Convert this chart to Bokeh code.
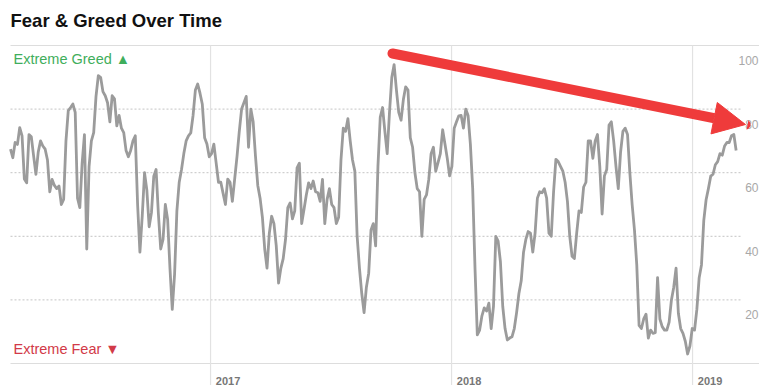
import pandas as pd
from bokeh.plotting import figure
from bokeh.models import Range1d, Arrow, NormalHead
from bokeh.core.properties import value
from bokeh.embed import file_html
from bokeh.resources import INLINE

# ---------------- data (twice-weekly readings) ----------------
series_start = "2016-03-04"
fear_greed = [
    67.4, 64.7, 69.5, 68.9, 74.2, 71.6, 58, 56.8, 72, 71.3,
    65.3, 59.5, 66.5, 70, 68.4, 67.4, 64, 54, 57.9, 56,
    55, 55.8, 50, 51.6, 70, 79.5, 80.5, 81.6, 79, 52,
    49, 63, 72, 36, 62, 70, 72.6, 84, 90.5, 90,
    85.5, 84.2, 82, 76, 84.2, 83.2, 74.7, 78, 74, 72.6,
    67, 65, 67, 70, 71.6, 50, 35, 46.3, 60, 54.5,
    43, 47.5, 58.9, 61, 47, 36, 39, 50, 45.3, 30,
    17, 28, 48, 57, 61, 66, 70, 71.6, 72.5, 78,
    86, 87.9, 85, 81.5, 71, 69, 65, 66, 69, 63,
    57, 57, 53.5, 50, 58, 57, 51, 58, 65, 73,
    80, 82, 84, 68, 80, 76, 65.3, 56, 52, 46,
    36, 30, 41, 46.3, 44, 37, 25.3, 30, 33, 39,
    49, 50.5, 45.5, 48, 61.5, 63, 44, 48.4, 53, 56.8,
    55, 57.4, 54, 53.7, 51, 57.9, 44, 51.6, 55, 50,
    49, 44, 46, 64, 74, 73, 77, 70, 64, 60.5,
    40, 30, 22, 16, 24, 28.4, 42, 44, 37, 62,
    77.5, 80.5, 73, 66, 79, 90, 94, 86, 79, 76.5,
    83, 87, 86, 71, 68, 60, 55, 54, 40, 51.6,
    53, 57.9, 66, 68, 60.5, 63.2, 66, 73.5, 69, 64.5,
    59, 62, 74, 76, 77.9, 78, 74, 80, 78, 69,
    55, 30, 9, 10.5, 15, 17.5, 16.5, 19, 11, 18,
    40, 38.5, 32, 18, 11, 7.4, 8, 8.4, 11, 16,
    22, 26, 35, 39, 41.5, 41, 35, 41, 52, 54,
    53.7, 55, 52, 41, 40, 54, 64.2, 63.5, 62, 60.5,
    57, 51, 40, 33.7, 33, 41, 48, 47.5, 55.5, 57,
    70, 70, 64.5, 70, 72, 62, 47, 59, 61, 75,
    76, 70, 62, 55, 66.5, 73, 74, 72, 60, 50,
    42, 31, 12, 11, 14, 15.5, 8, 10.5, 9.5, 9.7,
    27, 14, 11.6, 10.5, 10.5, 13, 20, 24, 30, 15.8,
    11, 9.5, 7, 3, 5.5, 11, 10.5, 17, 27, 31,
    45, 51.5, 55, 58.9, 59.5, 62.5, 63.5, 66, 65.5, 68.4,
    69.5, 69.5, 71.6, 72, 67,
]
dates = pd.date_range(series_start, periods=len(fear_greed), freq="84h")

grid_levels = [20, 40, 60, 80]
tick_values = [100, 80, 60, 40, 20]
tick_labels = ["100", "80", "60", "40", "20"]
year_labels = ["2017", "2018", "2019"]
year_starts = pd.to_datetime(["2017-01-01", "2018-01-01", "2019-01-01"])

# ---------------- layout helpers (screen px -> data) ----------------
W, H = 759, 385
PX_PER_DAY = 241 / 365.0
T0 = pd.Timestamp(series_start)
LEFT = 10


def px_x(px):
    return T0 + pd.Timedelta(days=(px - LEFT) / PX_PER_DAY)


def px_y(py):
    return (363 - py) / 3.18


def ms(t):
    return pd.Timestamp(t).value / 1e6


p = figure(width=W, height=H, x_axis_type="datetime",
           x_range=Range1d(ms(px_x(0)), ms(px_x(W))),
           y_range=Range1d(px_y(H), px_y(0)),
           toolbar_location=None, output_backend="svg",
           min_border=0, x_axis_location=None, y_axis_location=None)
p.outline_line_color = None
p.xgrid.visible = False
p.ygrid.visible = False
p.background_fill_color = "white"
p.border_fill_color = "white"

# dotted horizontal gridlines
n = len(grid_levels)
p.segment(x0=[ms(px_x(LEFT))] * n, x1=[ms(px_x(741))] * n,
          y0=grid_levels, y1=grid_levels,
          line_color="#c4c4c4", line_width=1, line_dash="2 2")
# solid top / bottom rules
p.segment(x0=[ms(px_x(LEFT))] * 2, x1=[ms(px_x(W))] * 2,
          y0=[100, 0], y1=[100, 0], line_color="#dddddd", line_width=1.2)
# year gridlines
p.segment(x0=[ms(t) for t in year_starts], x1=[ms(t) for t in year_starts],
          y0=[100] * 3, y1=[px_y(H)] * 3, line_color="#e2e2e2", line_width=1.2)

# the data line
p.line([ms(t) for t in dates], fear_greed, line_color="#9b9b9b",
       line_width=2.8, line_join="round")

# right-hand value labels (sit below their gridline)
p.text(x=[ms(px_x(758))] * len(tick_values),
       y=[v - 15 / 3.18 for v in tick_values], text=tick_labels,
       text_align="right", text_baseline="middle",
       text_font=value("Liberation Sans"), text_font_size="12px",
       text_color="#a8a8a8")

# year labels
p.text(x=[ms(t + pd.Timedelta(days=8)) for t in year_starts],
       y=[px_y(380)] * 3, text=year_labels,
       text_align="left", text_baseline="middle",
       text_font=value("Liberation Sans"), text_font_size="11px",
       text_font_style="bold", text_color="#777777")

# Extreme Greed / Fear labels
p.text(x=[ms(px_x(13))], y=[px_y(58.5)], text=["Extreme Greed \u25B2"],
       text_align="left", text_baseline="middle",
       text_font=value("Liberation Sans"), text_font_size="14.5px",
       text_color="#3fae5c")
p.text(x=[ms(px_x(13))], y=[px_y(348.5)], text=["Extreme Fear \u25BC"],
       text_align="left", text_baseline="middle",
       text_font=value("Liberation Sans"), text_font_size="14.5px",
       text_color="#d23a48")

# title
p.text(x=[ms(px_x(10))], y=[px_y(20)], text=["Fear & Greed Over Time"],
       text_align="left", text_baseline="middle",
       text_font=value("Liberation Sans"), text_font_size="18.5px",
       text_font_style="bold", text_color="#111111")

# red arrow
red = "#ef3b3b"
p.add_layout(Arrow(end=NormalHead(size=32, fill_color=red, line_color=red),
                   x_start=ms(px_x(392)), y_start=px_y(53),
                   x_end=ms(px_x(745)), y_end=px_y(124),
                   line_color=red, line_width=10, line_cap="round"))

open("out.html", "w").write(file_html(p, INLINE))
